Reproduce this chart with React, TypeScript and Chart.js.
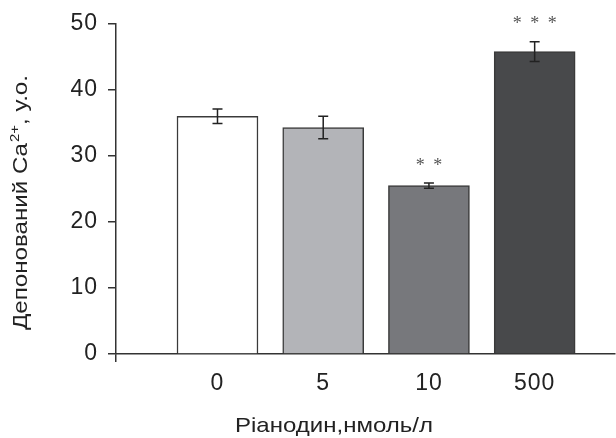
import React, { useEffect, useRef } from 'react';
import { Chart, registerables } from 'chart.js';

Chart.register(...registerables);

// ---- data ----
const categories = ['0', '5', '10', '500'];
const means = [36.0, 34.3, 25.5, 45.8];
const errors = [1.1, 1.7, 0.4, 1.5];
const significance = ['', '', '* *', '* * *'];
const barColors = ['#ffffff', '#b3b4b8', '#77787c', '#48494b'];
const yTickStep = 10;
const yMin = 0;
const yMax = 50;

const xTitle = 'Ріанодин,нмоль/л';
const yTitleMain = 'Депонований Ca';
const yTitleSup = '2+';
const yTitleTail = ', у.о.';

const FONT = "'Liberation Sans', Arial, sans-serif";
const AXIS_COLOR = '#333333';
const TEXT_COLOR = '#222222';

const spacingPlugin = {
  id: 'tickSpacing',
  beforeDraw(chart: any) {
    chart.ctx.letterSpacing = '1px';
  },
  beforeDatasetsDraw(chart: any) {
    chart.ctx.letterSpacing = '0px';
  },
};

const errorBarPlugin = {
  id: 'errorBars',
  afterDatasetsDraw(chart: any) {
    const ctx = chart.ctx;
    const meta = chart.getDatasetMeta(0);
    const yScale = chart.scales.y;
    ctx.save();
    meta.data.forEach((bar: any, i: number) => {
      const x = bar.x;
      const top = yScale.getPixelForValue(means[i] + errors[i]);
      const bot = yScale.getPixelForValue(means[i] - errors[i]);
      ctx.strokeStyle = '#222222';
      ctx.lineWidth = 1.5;
      ctx.beginPath();
      ctx.moveTo(x, top);
      ctx.lineTo(x, bot);
      ctx.moveTo(x - 5, top);
      ctx.lineTo(x + 5, top);
      ctx.moveTo(x - 5, bot);
      ctx.lineTo(x + 5, bot);
      ctx.stroke();
      if (significance[i]) {
        ctx.fillStyle = '#555555';
        ctx.font = "18px 'Liberation Serif', 'Times New Roman', serif";
        ctx.letterSpacing = '2px';
        ctx.textAlign = 'center';
        ctx.textBaseline = 'middle';
        ctx.fillText(significance[i], x + 1, top - 17);
        ctx.letterSpacing = '0px';
      }
    });
    ctx.restore();
  },
};

const titlesPlugin = {
  id: 'axisTitles',
  afterDraw(chart: any) {
    const ctx = chart.ctx;
    ctx.save();
    ctx.letterSpacing = '0px';
    ctx.fillStyle = TEXT_COLOR;
    ctx.textBaseline = 'alphabetic';
    // x title, stretched horizontally to match the reference proportions
    ctx.font = `21px ${FONT}`;
    ctx.textAlign = 'center';
    const xw = ctx.measureText(xTitle).width;
    const xs = 198 / xw;
    ctx.save();
    ctx.translate(334, 432);
    ctx.scale(xs, 1);
    ctx.fillText(xTitle, 0, 0);
    ctx.restore();

    // y title (rotated, with superscript)
    const mainFont = `21px ${FONT}`;
    const supFont = `13px ${FONT}`;
    ctx.font = mainFont;
    const w1 = ctx.measureText(yTitleMain).width;
    const w3 = ctx.measureText(yTitleTail).width;
    ctx.font = supFont;
    const w2 = ctx.measureText(yTitleSup).width + 1;
    const total = w1 + w2 + w3;
    const ys = 255 / total;
    ctx.translate(27, 202.5);
    ctx.rotate(-Math.PI / 2);
    ctx.scale(ys, 1);
    ctx.textAlign = 'left';
    let x = -total / 2;
    ctx.font = mainFont;
    ctx.fillText(yTitleMain, x, 0);
    x += w1;
    ctx.font = supFont;
    ctx.fillText(yTitleSup, x + 1, -8);
    x += w2;
    ctx.font = mainFont;
    ctx.fillText(yTitleTail, x, 0);
    ctx.restore();
  },
};

export default function App() {
  const ref = useRef<HTMLCanvasElement | null>(null);
  useEffect(() => {
    if (!ref.current) return;
    const xMin = 0.04;
    const xMax = 4.76;
    const chart = new Chart(ref.current, {
      type: 'bar',
      data: {
        datasets: [
          {
            data: means.map((y, i) => ({ x: i + 1, y })),
            backgroundColor: barColors,
            borderColor: '#3a3a3a',
            borderWidth: 1.5,
            barThickness: 81,
          },
        ],
      },
      options: {
        responsive: false,
        animation: false,
        layout: { padding: { top: 19, right: 1, left: 0, bottom: 0 } },
        plugins: {
          legend: { display: false },
          tooltip: { enabled: false },
        },
        scales: {
          x: {
            type: 'linear',
            offset: false,
            min: xMin,
            max: xMax,
            afterBuildTicks: (s: any) => {
              s.ticks = [{ value: xMin }, ...categories.map((_, i) => ({ value: i + 1 }))];
            },
            ticks: {
              autoSkip: false,
              maxRotation: 0,
              padding: 8,
              color: TEXT_COLOR,
              font: { size: 23, family: FONT },
              callback: (v: any) => (Number.isInteger(v) ? categories[v - 1] : ''),
            },
            grid: {
              offset: false,
              drawOnChartArea: false,
              tickLength: 8,
              lineWidth: 1.5,
              color: (c: any) => (c.index === 0 ? AXIS_COLOR : 'rgba(0,0,0,0)'),
            },
            border: { color: AXIS_COLOR, width: 1.5 },
            afterFit: (s: any) => {
              s.height = 84;
            },
          },
          y: {
            min: yMin,
            max: yMax,
            ticks: {
              stepSize: yTickStep,
              padding: 10,
              color: TEXT_COLOR,
              font: { size: 23, family: FONT },
            },
            grid: {
              drawOnChartArea: false,
              tickLength: 8,
              lineWidth: 1.5,
              color: AXIS_COLOR,
            },
            border: { color: AXIS_COLOR, width: 1.5 },
            afterFit: (s: any) => {
              s.width = 116;
            },
          },
        },
      },
      plugins: [spacingPlugin, errorBarPlugin, titlesPlugin],
    } as any);
    return () => chart.destroy();
  }, []);
  return (
    <div style={{ position: 'absolute', left: 0, top: 0, width: 616, height: 438, background: '#fff' }}>
      <canvas ref={ref} width={616} height={438} style={{ display: 'block' }} />
    </div>
  );
}
